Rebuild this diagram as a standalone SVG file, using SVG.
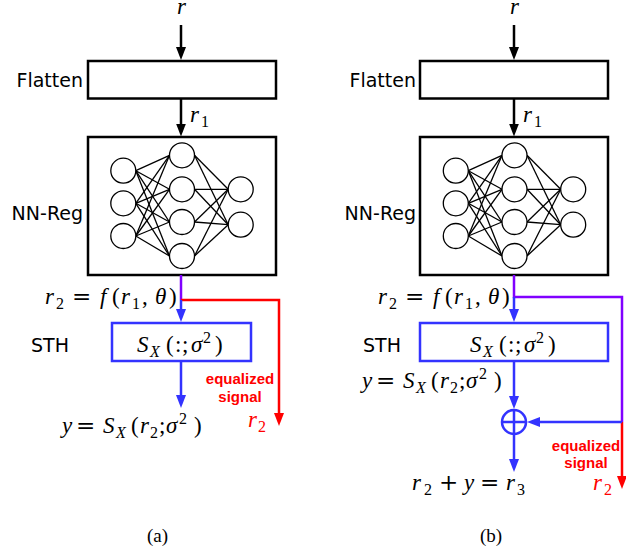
<svg xmlns="http://www.w3.org/2000/svg" xmlns:xlink="http://www.w3.org/1999/xlink" width="626" height="552" viewBox="0 0 626 552">
<style>
.box{fill:#fff;stroke:#000;stroke-width:2.5}
.bbox{fill:#fff;stroke:#3333ff;stroke-width:2.5}
.n{fill:#fff;stroke:#000;stroke-width:1.3}
.e{stroke:#000;stroke-width:1.3}
.lbl{font-family:"DejaVu Sans",sans-serif;font-size:19px;fill:#000}
.m{font-family:"Liberation Serif","DejaVu Serif",serif;font-size:23px;fill:#000}
.i{font-style:italic}
.s{font-size:16px}
.op{font-family:"DejaVu Serif",serif}
.sc{font-family:"Liberation Serif","DejaVu Serif",serif;font-style:italic}
.red{fill:#ff0000}
.eq{font-family:"Liberation Sans",Arial,sans-serif;font-weight:bold;font-size:15px;fill:#ff0000}
.cap{font-family:"Liberation Serif",serif;font-size:19px;fill:#000}
.k{fill:none;stroke:#000;stroke-width:2.5}
.b{fill:none;stroke:#3333ff;stroke-width:2.5}
.p{fill:none;stroke:#8000ff;stroke-width:2.5}
.r{fill:none;stroke:#ff0000;stroke-width:2.5}
</style>
<defs>
<marker id="ak" markerUnits="userSpaceOnUse" markerWidth="13" markerHeight="10" refX="5" refY="5" orient="auto"><path d="M0,0 L13,5 L0,10 z" fill="#000"/></marker>
<marker id="ab" markerUnits="userSpaceOnUse" markerWidth="13" markerHeight="10" refX="5" refY="5" orient="auto"><path d="M0,0 L13,5 L0,10 z" fill="#3333ff"/></marker>
<marker id="ar" markerUnits="userSpaceOnUse" markerWidth="13" markerHeight="10" refX="5" refY="5" orient="auto"><path d="M0,0 L13,5 L0,10 z" fill="#ff0000"/></marker>
<g id="net">
<line class="e" x1="135.8" y1="170.7" x2="169.5" y2="155.3"/>
<line class="e" x1="135.8" y1="170.7" x2="169.5" y2="189.3"/>
<line class="e" x1="135.8" y1="170.7" x2="169.5" y2="222"/>
<line class="e" x1="135.8" y1="170.7" x2="169.5" y2="256"/>
<line class="e" x1="135.8" y1="203.3" x2="169.5" y2="155.3"/>
<line class="e" x1="135.8" y1="203.3" x2="169.5" y2="189.3"/>
<line class="e" x1="135.8" y1="203.3" x2="169.5" y2="222"/>
<line class="e" x1="135.8" y1="203.3" x2="169.5" y2="256"/>
<line class="e" x1="135.8" y1="236" x2="169.5" y2="155.3"/>
<line class="e" x1="135.8" y1="236" x2="169.5" y2="189.3"/>
<line class="e" x1="135.8" y1="236" x2="169.5" y2="222"/>
<line class="e" x1="135.8" y1="236" x2="169.5" y2="256"/>
<line class="e" x1="194.5" y1="155.3" x2="228.2" y2="189.3"/>
<line class="e" x1="194.5" y1="155.3" x2="228.2" y2="224.7"/>
<line class="e" x1="194.5" y1="189.3" x2="228.2" y2="189.3"/>
<line class="e" x1="194.5" y1="189.3" x2="228.2" y2="224.7"/>
<line class="e" x1="194.5" y1="222" x2="228.2" y2="189.3"/>
<line class="e" x1="194.5" y1="222" x2="228.2" y2="224.7"/>
<line class="e" x1="194.5" y1="256" x2="228.2" y2="189.3"/>
<line class="e" x1="194.5" y1="256" x2="228.2" y2="224.7"/>
<circle class="n" cx="123.3" cy="170.7" r="12.5"/>
<circle class="n" cx="123.3" cy="203.3" r="12.5"/>
<circle class="n" cx="123.3" cy="236" r="12.5"/>
<circle class="n" cx="182" cy="155.3" r="12.5"/>
<circle class="n" cx="182" cy="189.3" r="12.5"/>
<circle class="n" cx="182" cy="222" r="12.5"/>
<circle class="n" cx="182" cy="256" r="12.5"/>
<circle class="n" cx="240.7" cy="189.3" r="12.5"/>
<circle class="n" cx="240.7" cy="224.7" r="12.5"/>
</g>
</defs>

<!-- Panel (a) -->
<g id="a-flatten">
<rect class="box" x="88" y="61" width="188" height="37.5"/>
<text class="lbl" x="83" y="87" text-anchor="end">Flatten</text>
</g>
<g id="a-nnreg">
<rect class="box" x="88" y="137" width="188" height="138"/>
<use xlink:href="#net"/>
<text class="lbl" x="83" y="220" text-anchor="end">NN-Reg</text>
</g>
<g id="a-sth">
<rect class="bbox" x="112" y="323" width="139" height="38"/>
<text class="lbl" x="31" y="352">STH</text>
<text class="m"><tspan class="sc" x="137" y="352">S</tspan><tspan class="sc s" x="150" y="357">X</tspan><tspan x="166" y="352">(</tspan><tspan x="175" y="352">:</tspan><tspan x="182" y="352">;</tspan><tspan class="i" x="191" y="352">σ</tspan><tspan class="s" x="203" y="343">2</tspan><tspan x="215" y="352">)</tspan></text>
</g>
<g id="a-labels">
<text class="m"><tspan class="i" x="177" y="14">r</tspan></text>
<text class="m"><tspan class="i" x="190" y="122">r</tspan><tspan class="s" x="201" y="127">1</tspan></text>
<text class="m"><tspan class="i" x="45" y="303.5">r</tspan><tspan class="s" x="56" y="308.5">2</tspan><tspan class="op" x="72" y="303.5">=</tspan><tspan class="i" x="100" y="303.5">f</tspan><tspan x="112" y="303.5">(</tspan><tspan class="i" x="121" y="303.5">r</tspan><tspan class="s" x="132" y="308.5">1</tspan><tspan x="142" y="303.5">,</tspan><tspan class="i" x="155" y="303.5">θ</tspan><tspan x="169" y="303.5">)</tspan></text>
<text class="m"><tspan class="i" x="62" y="433">y</tspan><tspan class="op" x="76" y="433">=</tspan><tspan class="sc" x="103" y="433">S</tspan><tspan class="sc s" x="116" y="438">X</tspan><tspan x="131" y="433">(</tspan><tspan class="i" x="140" y="433">r</tspan><tspan class="s" x="150" y="438">2</tspan><tspan x="159" y="433">;</tspan><tspan class="i" x="166" y="433">σ</tspan><tspan class="s" x="179" y="424">2</tspan><tspan x="194" y="433">)</tspan></text>
<text class="eq" x="240" y="384" text-anchor="middle">equalized</text>
<text class="eq" x="240" y="401.5" text-anchor="middle">signal</text>
<text class="m red"><tspan class="i" x="248" y="427">r</tspan><tspan class="s" x="258" y="432">2</tspan></text>
<text class="cap" x="157.5" y="542" text-anchor="middle">(a)</text>
</g>

<!-- Panel (b) -->
<g id="b-flatten">
<rect class="box" x="420" y="61" width="188" height="37.5"/>
<text class="lbl" x="416" y="87" text-anchor="end">Flatten</text>
</g>
<g id="b-nnreg">
<rect class="box" x="420" y="137" width="188" height="138"/>
<use xlink:href="#net" transform="translate(332.5,0)"/>
<text class="lbl" x="416" y="220" text-anchor="end">NN-Reg</text>
</g>
<g id="b-sth">
<rect class="bbox" x="420" y="323" width="188" height="38"/>
<text class="lbl" x="363" y="352">STH</text>
<text class="m"><tspan class="sc" x="470" y="352">S</tspan><tspan class="sc s" x="483" y="357">X</tspan><tspan x="499" y="352">(</tspan><tspan x="508" y="352">:</tspan><tspan x="515" y="352">;</tspan><tspan class="i" x="524" y="352">σ</tspan><tspan class="s" x="536" y="343">2</tspan><tspan x="548" y="352">)</tspan></text>
</g>
<g id="b-sum">
<circle cx="514" cy="422" r="12" fill="none" stroke="#3333ff" stroke-width="2.5"/>
<line x1="502" y1="422" x2="526" y2="422" stroke="#3333ff" stroke-width="2.5"/>
<line x1="514" y1="410" x2="514" y2="434" stroke="#3333ff" stroke-width="2.5"/>
</g>
<g id="b-labels">
<text class="m"><tspan class="i" x="510" y="14">r</tspan></text>
<text class="m"><tspan class="i" x="523" y="122">r</tspan><tspan class="s" x="534" y="127">1</tspan></text>
<text class="m"><tspan class="i" x="378" y="303.5">r</tspan><tspan class="s" x="389" y="308.5">2</tspan><tspan class="op" x="405" y="303.5">=</tspan><tspan class="i" x="433" y="303.5">f</tspan><tspan x="445" y="303.5">(</tspan><tspan class="i" x="454" y="303.5">r</tspan><tspan class="s" x="465" y="308.5">1</tspan><tspan x="475" y="303.5">,</tspan><tspan class="i" x="488" y="303.5">θ</tspan><tspan x="502" y="303.5">)</tspan></text>
<text class="m"><tspan class="i" x="362" y="388">y</tspan><tspan class="op" x="376" y="388">=</tspan><tspan class="sc" x="403" y="388">S</tspan><tspan class="sc s" x="416" y="393">X</tspan><tspan x="431" y="388">(</tspan><tspan class="i" x="440" y="388">r</tspan><tspan class="s" x="450" y="393">2</tspan><tspan x="459" y="388">;</tspan><tspan class="i" x="466" y="388">σ</tspan><tspan class="s" x="479" y="379">2</tspan><tspan x="494" y="388">)</tspan></text>
<text class="m"><tspan class="i" x="412" y="490">r</tspan><tspan class="s" x="424" y="495">2</tspan><tspan class="op" x="439" y="490">+</tspan><tspan class="i" x="464" y="490">y</tspan><tspan class="op" x="480" y="490">=</tspan><tspan class="i" x="506" y="490">r</tspan><tspan class="s" x="517" y="495">3</tspan></text>
<text class="eq" x="586" y="450.5" text-anchor="middle">equalized</text>
<text class="eq" x="586" y="468" text-anchor="middle">signal</text>
<text class="m red"><tspan class="i" x="593" y="490">r</tspan><tspan class="s" x="604" y="495">2</tspan></text>
<text class="cap" x="491" y="542" text-anchor="middle">(b)</text>
</g>

<g id="connectors">
<line class="k" x1="181" y1="25" x2="181" y2="52" marker-end="url(#ak)"/>
<line class="k" x1="181" y1="98.5" x2="181" y2="128.5" marker-end="url(#ak)"/>
<polyline class="p" points="181,275 181,300"/>
<polyline class="r" points="181,300 279,300 279,418" marker-end="url(#ar)"/>
<line class="b" x1="181" y1="300" x2="181" y2="314" marker-end="url(#ab)"/>
<line class="b" x1="181" y1="361" x2="181" y2="400" marker-end="url(#ab)"/>

<line class="k" x1="514" y1="25" x2="514" y2="52" marker-end="url(#ak)"/>
<line class="k" x1="514" y1="98.5" x2="514" y2="128.5" marker-end="url(#ak)"/>
<polyline class="p" points="514,275 514,297 622,297 622,422"/>
<line class="r" x1="622" y1="422" x2="622" y2="481" marker-end="url(#ar)"/>
<line class="b" x1="514" y1="297" x2="514" y2="314" marker-end="url(#ab)"/>
<line class="b" x1="514" y1="361" x2="514" y2="401" marker-end="url(#ab)"/>
<line class="b" x1="622" y1="422" x2="535" y2="422" marker-end="url(#ab)"/>
<line class="b" x1="514" y1="434" x2="514" y2="464" marker-end="url(#ab)"/>
</g>
</svg>
